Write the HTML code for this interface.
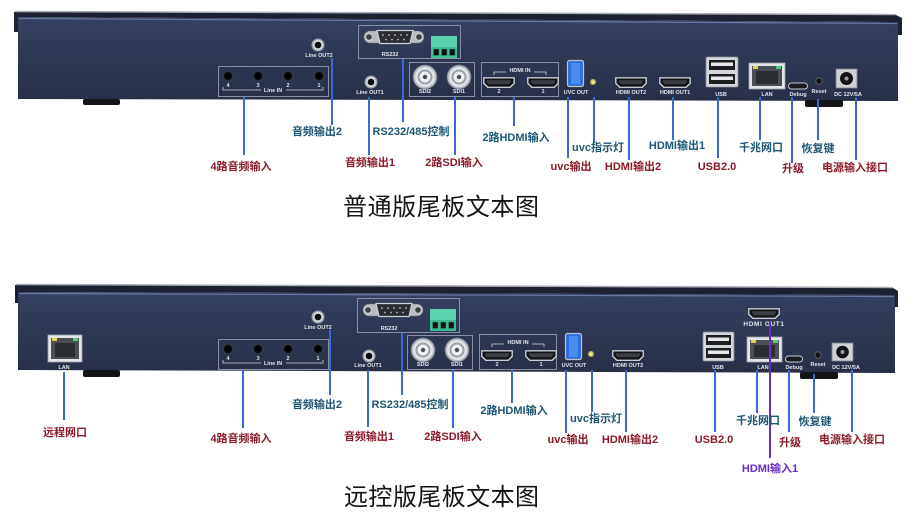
<!DOCTYPE html>
<html><head><meta charset="utf-8">
<style>
html,body{margin:0;padding:0;background:#fff;}
svg{display:block;}
.t{font-family:"Liberation Sans",Arial,sans-serif;font-size:5.5px;fill:#e2e5ea;text-anchor:middle;font-weight:bold;}
.L{font-family:"Liberation Sans","Noto Sans CJK SC",sans-serif;font-size:11px;font-weight:bold;text-anchor:middle;}
.r{fill:#8a1b2a;}
.c{fill:#1c5674;}
.p{fill:#6a2cc4;}
.ttl{font-family:"Liberation Sans","Noto Sans CJK SC",sans-serif;font-size:24px;fill:#141414;}
.ld{stroke:#3b68d6;stroke-width:2;fill:none;}
.bx{fill:none;stroke:#8890a2;stroke-width:1;}
.br{fill:none;stroke:#cfd3da;stroke-width:0.8;}
</style></head>
<body>
<svg width="920" height="522" viewBox="0 0 920 522" xmlns="http://www.w3.org/2000/svg">
<defs>
<linearGradient id="body" x1="0" y1="0" x2="0" y2="1">
<stop offset="0" stop-color="#364262"/>
<stop offset="0.35" stop-color="#2f3a56"/>
<stop offset="1" stop-color="#283048"/>
</linearGradient>
<g id="jack"><circle r="6.5" fill="#9ea3aa"/><circle r="5.2" fill="#d6d9dd"/><circle r="3.3" fill="#0b0b0d"/></g>
<g id="jackd"><circle r="5" fill="#0d0e10" stroke="#3c4250" stroke-width="1"/><circle r="2.6" fill="#000"/></g>
<g id="bnc"><circle r="12" fill="#b6bbc2" stroke="#6c717a" stroke-width="0.8"/><circle r="10" fill="#e3e6e9"/><circle r="7.5" fill="#9aa0a8"/><circle r="5.5" fill="#eef0f2"/><circle r="2.2" fill="#4a4d53"/></g>
<g id="hdmi"><path d="M0.8,0.8 h30.4 v5.5 l-4,4 h-22.4 l-4,-4 z" fill="#121316" stroke="#c8ccd2" stroke-width="1.4"/><path d="M4,3.2 h24 v2 l-2,2 h-20 l-2,-2 z" fill="#3c3f46"/></g>
</defs>

<!-- ================= TOP PANEL ================= -->
<path d="M14,12 L896,15 L902,18 L902,35 L898,35 L898,22 L18,17 L18,32 L14,32 Z" fill="#1c2030"/>
<path d="M15,11.5 L896,14.5" stroke="#a8acb4" stroke-width="1.5"/>
<path d="M18,17 L898,22 L898,101 L18,99 Z" fill="url(#body)"/>
<path d="M19,18.5 L897,23.5" stroke="#6878a0" stroke-width="1.2"/>
<rect x="83" y="99" width="37" height="6" rx="2" fill="#141518"/>
<rect x="805" y="100" width="38" height="7" rx="2" fill="#141518"/>

<use href="#jack" x="318" y="45"/>
<text class="t" x="319" y="57">Line OUT2</text>

<rect class="bx" x="218.5" y="66.5" width="110" height="30"/>
<use href="#jackd" x="228" y="76"/><use href="#jackd" x="258" y="76"/><use href="#jackd" x="288" y="76"/><use href="#jackd" x="319" y="76"/>
<text class="t" x="228" y="87">4</text><text class="t" x="258" y="87">3</text><text class="t" x="288" y="87">2</text><text class="t" x="319" y="87">1</text>
<path class="br" d="M223,87 v3 h38 M286,90 h37 v-3"/>
<text class="t" x="273" y="92">Line IN</text>

<use href="#jack" x="371" y="82"/>
<text class="t" x="370" y="94">Line OUT1</text>

<rect class="bx" x="358.5" y="25.5" width="102" height="33"/>
<rect x="364" y="31" width="60" height="12" rx="6" fill="#b8bcc3" stroke="#777" stroke-width="0.6"/>
<circle cx="369" cy="37" r="3.3" fill="#3e4046" stroke="#ddd" stroke-width="0.8"/>
<circle cx="419" cy="37" r="3.3" fill="#3e4046" stroke="#ddd" stroke-width="0.8"/>
<path d="M377,30.5 h36 l-3,13 h-30 z" fill="#2a2c31" stroke="#d0d3d8" stroke-width="1.2"/>
<g fill="#b9bdc4"><circle cx="383" cy="35" r="0.9"/><circle cx="389" cy="35" r="0.9"/><circle cx="395" cy="35" r="0.9"/><circle cx="401" cy="35" r="0.9"/><circle cx="407" cy="35" r="0.9"/><circle cx="386" cy="39.5" r="0.9"/><circle cx="392" cy="39.5" r="0.9"/><circle cx="398" cy="39.5" r="0.9"/><circle cx="404" cy="39.5" r="0.9"/></g>
<text class="t" x="390" y="56">RS232</text>
<rect x="431" y="36" width="26" height="22" fill="#3dbf98"/>
<rect x="431" y="36" width="26" height="11" fill="#5ad2ad"/>
<rect x="433.5" y="49" width="5.5" height="6.5" fill="#111" stroke="#2a9a78" stroke-width="0.6"/>
<rect x="441.5" y="49" width="5.5" height="6.5" fill="#111" stroke="#2a9a78" stroke-width="0.6"/>
<rect x="449.5" y="49" width="5.5" height="6.5" fill="#111" stroke="#2a9a78" stroke-width="0.6"/>

<rect class="bx" x="409.5" y="62.5" width="65" height="34"/>
<use href="#bnc" x="425" y="77"/><use href="#bnc" x="459" y="77"/>
<text class="t" x="425" y="93">SDI2</text><text class="t" x="459" y="93">SDI1</text>

<rect class="bx" x="481.5" y="62.5" width="77" height="34"/>
<path class="br" d="M494,75 v-3 h12 M534,72 h12 v3"/>
<text class="t" x="520" y="72">HDMI IN</text>
<use href="#hdmi" x="483" y="77"/><use href="#hdmi" x="527" y="77"/>
<text class="t" x="499" y="93">2</text><text class="t" x="543" y="93">1</text>

<rect x="567.5" y="60.5" width="16" height="26" rx="2" fill="#2a6ee0" stroke="#c0c4ca" stroke-width="1.2"/>
<rect x="571" y="63" width="9" height="21" fill="#4a8cf0"/>
<text class="t" x="576" y="94">UVC OUT</text>
<circle cx="593" cy="82" r="3" fill="#bdb860"/><circle cx="593" cy="82" r="1.5" fill="#f0ec9a"/>

<use href="#hdmi" x="615" y="77"/>
<text class="t" x="631" y="94">HDMI OUT2</text>
<use href="#hdmi" x="659" y="77"/>
<text class="t" x="675" y="94">HDMI OUT1</text>

<rect x="706" y="57" width="32" height="30" rx="1.5" fill="#d4d7dc" stroke="#8d9199" stroke-width="0.8"/>
<rect x="709" y="60" width="26" height="10" fill="#1d1e22"/><rect x="711" y="62.5" width="22" height="3.5" fill="#e8e8e8"/>
<rect x="709" y="74" width="26" height="10" fill="#1d1e22"/><rect x="711" y="76.5" width="22" height="3.5" fill="#e8e8e8"/>
<text class="t" x="721" y="96">USB</text>

<rect x="749" y="63" width="36" height="26" fill="#e3e5e8" stroke="#9ea2a9" stroke-width="0.8"/>
<rect x="752" y="66" width="30" height="20" fill="#4b4e55"/>
<rect x="756" y="71" width="22" height="13" fill="#2b2d31"/>
<rect x="753" y="66" width="5" height="3" fill="#e0d050"/><rect x="776" y="66" width="5" height="3" fill="#4fd070"/>
<text class="t" x="767" y="96">LAN</text>

<rect x="788.5" y="83" width="19" height="6" rx="3" fill="#1a1b1e" stroke="#c5c8cd" stroke-width="1"/>
<text class="t" x="798" y="96">Debug</text>
<circle cx="819" cy="81" r="3.2" fill="#141416" stroke="#5a5e66" stroke-width="1"/>
<text class="t" x="819" y="93">Reset</text>
<rect x="836" y="69" width="21" height="19" fill="#ced1d6" stroke="#80848b" stroke-width="0.8"/>
<circle cx="846.5" cy="78.5" r="6.5" fill="#141416"/><circle cx="846.5" cy="78.5" r="2" fill="#9a9ea5"/>
<text class="t" x="848" y="96">DC 12V/5A</text>

<!-- top leaders -->
<path class="ld" d="M244,97 V155 M332,58 V125 M369,97 V155 M403,59 V122 M455,97 V155 M514,97 V126 M568,97 V158 M594,97 V143 M629,97 V160 M673,97 V140 M718,97 V158 M760,97 V140 M792,97 V163 M818,99 V140 M856,97 V160"/>

<!-- top labels -->
<text class="L r" x="241" y="170">4路音频输入</text>
<text class="L c" x="317" y="135">音频输出2</text>
<text class="L r" x="370" y="166">音频输出1</text>
<text class="L c" x="411" y="135">RS232/485控制</text>
<text class="L r" x="454" y="166">2路SDI输入</text>
<text class="L c" x="516" y="141">2路HDMI输入</text>
<text class="L r" x="571" y="170">uvc输出</text>
<text class="L c" x="598" y="151">uvc指示灯</text>
<text class="L r" x="633" y="170">HDMI输出2</text>
<text class="L c" x="677" y="149">HDMI输出1</text>
<text class="L r" x="717" y="170">USB2.0</text>
<text class="L c" x="761" y="151">千兆网口</text>
<text class="L r" x="793" y="172">升级</text>
<text class="L c" x="818" y="152">恢复键</text>
<text class="L r" x="855" y="171">电源输入接口</text>

<text class="ttl" x="343" y="215" textLength="196">普通版尾板文本图</text>

<!-- ================= BOTTOM PANEL ================= -->
<path d="M15,285 L893,288 L898,291 L898,307 L895,307 L895,295 L18,292 L18,303 L15,303 Z" fill="#1c2030"/>
<path d="M16,284.5 L893,287.5" stroke="#a8acb4" stroke-width="1.5"/>
<path d="M18,292 L895,295 L895,373 L18,370 Z" fill="url(#body)"/>
<path d="M19,293.5 L894,296.5" stroke="#6878a0" stroke-width="1.2"/>
<rect x="83" y="370" width="37" height="7" rx="2" fill="#141518"/>
<rect x="800" y="372" width="38" height="7" rx="2" fill="#141518"/>

<!-- left LAN -->
<rect x="48" y="335" width="34" height="27" fill="#e3e5e8" stroke="#9ea2a9" stroke-width="0.8"/>
<rect x="51" y="338" width="28" height="21" fill="#4b4e55"/>
<rect x="55" y="343" width="20" height="14" fill="#2b2d31"/>
<rect x="52" y="338" width="5" height="3" fill="#e0d050"/><rect x="73" y="338" width="5" height="3" fill="#4fd070"/>
<text class="t" x="64" y="369">LAN</text>

<use href="#jack" x="318" y="317"/>
<text class="t" x="318" y="329">Line OUT2</text>

<rect class="bx" x="218.5" y="339.5" width="110" height="30"/>
<use href="#jackd" x="228" y="349"/><use href="#jackd" x="258" y="349"/><use href="#jackd" x="288" y="349"/><use href="#jackd" x="318" y="349"/>
<text class="t" x="228" y="360">4</text><text class="t" x="258" y="360">3</text><text class="t" x="288" y="360">2</text><text class="t" x="318" y="360">1</text>
<path class="br" d="M223,360 v3 h38 M286,363 h37 v-3"/>
<text class="t" x="273" y="365">Line IN</text>

<use href="#jack" x="369" y="356"/>
<text class="t" x="368" y="367">Line OUT1</text>

<rect class="bx" x="357.5" y="298.5" width="102" height="34"/>
<rect x="363" y="304" width="60" height="12" rx="6" fill="#b8bcc3" stroke="#777" stroke-width="0.6"/>
<circle cx="368" cy="310" r="3.3" fill="#3e4046" stroke="#ddd" stroke-width="0.8"/>
<circle cx="418" cy="310" r="3.3" fill="#3e4046" stroke="#ddd" stroke-width="0.8"/>
<path d="M376,303.5 h36 l-3,13 h-30 z" fill="#2a2c31" stroke="#d0d3d8" stroke-width="1.2"/>
<g fill="#b9bdc4"><circle cx="382" cy="308" r="0.9"/><circle cx="388" cy="308" r="0.9"/><circle cx="394" cy="308" r="0.9"/><circle cx="400" cy="308" r="0.9"/><circle cx="406" cy="308" r="0.9"/><circle cx="385" cy="312.5" r="0.9"/><circle cx="391" cy="312.5" r="0.9"/><circle cx="397" cy="312.5" r="0.9"/><circle cx="403" cy="312.5" r="0.9"/></g>
<text class="t" x="389" y="330">RS232</text>
<rect x="430" y="309" width="26" height="22" fill="#3dbf98"/>
<rect x="430" y="309" width="26" height="11" fill="#5ad2ad"/>
<rect x="432.5" y="322" width="5.5" height="6.5" fill="#111" stroke="#2a9a78" stroke-width="0.6"/>
<rect x="440.5" y="322" width="5.5" height="6.5" fill="#111" stroke="#2a9a78" stroke-width="0.6"/>
<rect x="448.5" y="322" width="5.5" height="6.5" fill="#111" stroke="#2a9a78" stroke-width="0.6"/>

<rect class="bx" x="407.5" y="335.5" width="65" height="34"/>
<use href="#bnc" x="423" y="350"/><use href="#bnc" x="457" y="350"/>
<text class="t" x="423" y="366">SDI2</text><text class="t" x="457" y="366">SDI1</text>

<rect class="bx" x="479.5" y="334.5" width="77" height="35"/>
<path class="br" d="M492,347 v-3 h12 M532,344 h12 v3"/>
<text class="t" x="518" y="344">HDMI IN</text>
<use href="#hdmi" x="481" y="350"/><use href="#hdmi" x="525" y="350"/>
<text class="t" x="497" y="366">2</text><text class="t" x="541" y="366">1</text>

<rect x="565.5" y="333.5" width="16" height="26" rx="2" fill="#2a6ee0" stroke="#c0c4ca" stroke-width="1.2"/>
<rect x="569" y="336" width="9" height="21" fill="#4a8cf0"/>
<text class="t" x="574" y="367">UVC OUT</text>
<circle cx="591" cy="354" r="3" fill="#bdb860"/><circle cx="591" cy="354" r="1.5" fill="#f0ec9a"/>

<use href="#hdmi" x="612" y="350"/>
<text class="t" x="628" y="367">HDMI OUT2</text>

<use href="#hdmi" x="748" y="308"/>
<text class="t" x="764" y="326" style="font-size:6.5px;letter-spacing:0.6px">HDMI OUT1</text>

<rect x="703" y="332" width="31" height="29" rx="1.5" fill="#d4d7dc" stroke="#8d9199" stroke-width="0.8"/>
<rect x="706" y="335" width="25" height="10" fill="#1d1e22"/><rect x="708" y="337.5" width="21" height="3.5" fill="#e8e8e8"/>
<rect x="706" y="348" width="25" height="10" fill="#1d1e22"/><rect x="708" y="350.5" width="21" height="3.5" fill="#e8e8e8"/>
<text class="t" x="718" y="369">USB</text>

<rect x="747" y="337" width="35" height="25" fill="#e3e5e8" stroke="#9ea2a9" stroke-width="0.8"/>
<rect x="750" y="340" width="29" height="19" fill="#4b4e55"/>
<rect x="754" y="345" width="21" height="12" fill="#2b2d31"/>
<rect x="751" y="340" width="5" height="3" fill="#e0d050"/><rect x="773" y="340" width="5" height="3" fill="#4fd070"/>
<text class="t" x="763" y="369">LAN</text>

<rect x="785.5" y="356" width="17" height="6" rx="3" fill="#1a1b1e" stroke="#c5c8cd" stroke-width="1"/>
<text class="t" x="794" y="369">Debug</text>
<circle cx="818" cy="355" r="3.2" fill="#141416" stroke="#5a5e66" stroke-width="1"/>
<text class="t" x="818" y="366">Reset</text>
<rect x="832" y="343" width="21" height="18" fill="#ced1d6" stroke="#80848b" stroke-width="0.8"/>
<circle cx="842.5" cy="352" r="6.3" fill="#141416"/><circle cx="842.5" cy="352" r="2" fill="#9a9ea5"/>
<text class="t" x="846" y="369">DC 12V/5A</text>

<!-- bottom leaders -->
<path class="ld" d="M64,372 V420 M243,370 V428 M330,330 V395 M368,370 V427 M402,333 V395 M453,370 V428 M512,370 V403 M566,370 V433 M592,370 V412 M626,370 V432 M715,370 V432 M757,370 V413 M789,370 V432 M814,374 V413 M852,370 V432"/>
<path d="M770,322 V458" stroke="#6a2cc4" stroke-width="2"/>

<!-- bottom labels -->
<text class="L r" x="65" y="436">远程网口</text>
<text class="L r" x="241" y="442">4路音频输入</text>
<text class="L c" x="317" y="408">音频输出2</text>
<text class="L r" x="369" y="440">音频输出1</text>
<text class="L c" x="410" y="408">RS232/485控制</text>
<text class="L r" x="453" y="440">2路SDI输入</text>
<text class="L c" x="514" y="414">2路HDMI输入</text>
<text class="L r" x="568" y="443">uvc输出</text>
<text class="L c" x="596" y="422">uvc指示灯</text>
<text class="L r" x="630" y="443">HDMI输出2</text>
<text class="L r" x="714" y="443">USB2.0</text>
<text class="L c" x="758" y="424">千兆网口</text>
<text class="L r" x="790" y="446">升级</text>
<text class="L c" x="815" y="425">恢复键</text>
<text class="L r" x="852" y="443">电源输入接口</text>
<text class="L p" x="770" y="472">HDMI输入1</text>

<text class="ttl" x="344" y="505" textLength="195">远控版尾板文本图</text>
</svg>
</body></html>
